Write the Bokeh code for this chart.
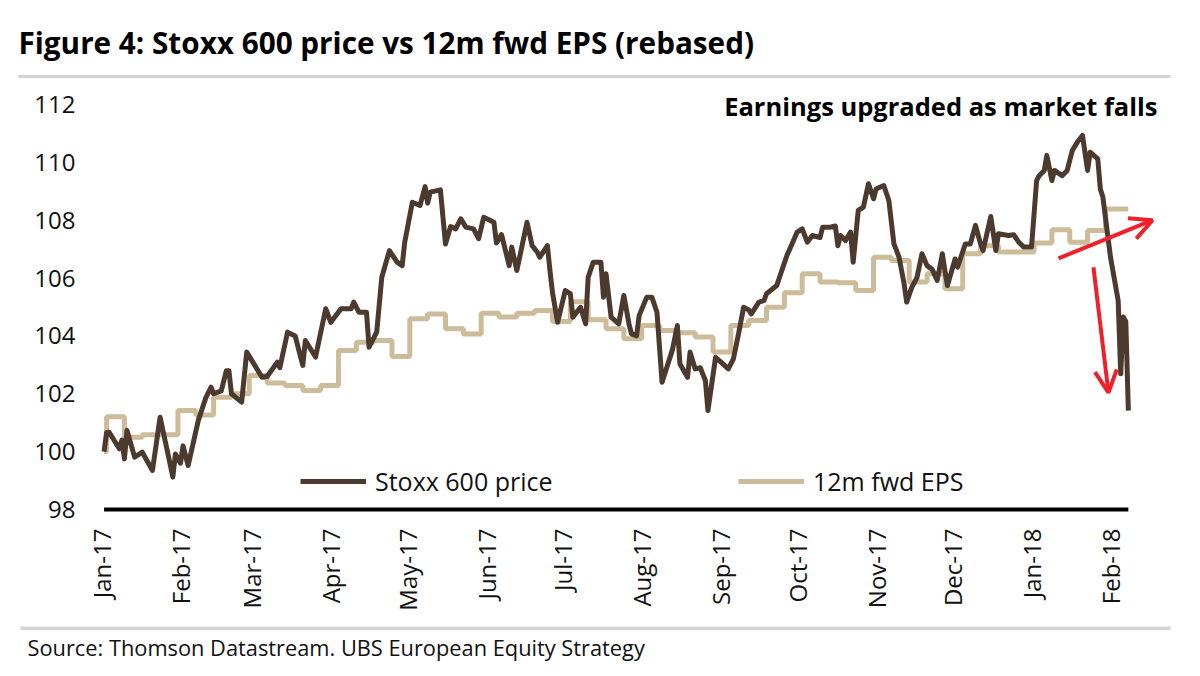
from math import pi
import pandas as pd
from bokeh.plotting import figure
from bokeh.layouts import column
from bokeh.models import (Range1d, FixedTicker, DatetimeTickFormatter, Legend, LegendItem,
                          Label, BoxAnnotation, Arrow, OpenHead)
from bokeh.embed import file_html
from bokeh.resources import INLINE

# ---------------- data ----------------
price_dates = [
    "2017-01-02", "2017-01-03", "2017-01-04", "2017-01-08", "2017-01-09", "2017-01-10", "2017-01-11",
    "2017-01-14", "2017-01-17", "2017-01-21", "2017-01-24", "2017-01-29", "2017-01-30", "2017-02-01",
    "2017-02-02", "2017-02-04", "2017-02-08", "2017-02-11", "2017-02-13", "2017-02-14", "2017-02-17",
    "2017-02-19", "2017-02-20", "2017-02-21", "2017-02-25", "2017-02-27", "2017-03-05", "2017-03-07",
    "2017-03-11", "2017-03-12", "2017-03-15", "2017-03-18", "2017-03-21", "2017-03-22", "2017-03-26",
    "2017-03-30", "2017-04-01", "2017-04-05", "2017-04-09", "2017-04-10", "2017-04-12", "2017-04-15",
    "2017-04-16", "2017-04-19", "2017-04-21", "2017-04-24", "2017-04-27", "2017-04-29", "2017-04-30",
    "2017-05-03", "2017-05-06", "2017-05-08", "2017-05-09", "2017-05-10", "2017-05-14", "2017-05-16",
    "2017-05-18", "2017-05-20", "2017-05-22", "2017-05-24", "2017-05-27", "2017-05-29", "2017-05-31",
    "2017-06-04", "2017-06-05", "2017-06-07", "2017-06-10", "2017-06-11", "2017-06-13", "2017-06-17",
    "2017-06-19", "2017-06-21", "2017-06-22", "2017-06-25", "2017-06-26", "2017-06-27", "2017-06-29",
    "2017-07-02", "2017-07-04", "2017-07-05", "2017-07-08", "2017-07-10", "2017-07-11", "2017-07-13",
    "2017-07-16", "2017-07-17", "2017-07-18", "2017-07-20", "2017-07-23", "2017-07-25", "2017-07-27",
    "2017-07-28", "2017-07-30", "2017-07-31", "2017-08-03", "2017-08-05", "2017-08-07", "2017-08-09",
    "2017-08-13", "2017-08-15", "2017-08-16", "2017-08-19", "2017-08-20", "2017-08-22", "2017-08-24",
    "2017-08-26", "2017-08-27", "2017-08-30", "2017-09-01", "2017-09-04", "2017-09-06", "2017-09-08",
    "2017-09-10", "2017-09-12", "2017-09-13", "2017-09-16", "2017-09-18", "2017-09-19", "2017-09-23",
    "2017-09-25", "2017-09-27", "2017-09-29", "2017-10-01", "2017-10-03", "2017-10-05", "2017-10-07",
    "2017-10-10", "2017-10-11", "2017-10-14", "2017-10-16", "2017-10-17", "2017-10-18", "2017-10-20",
    "2017-10-22", "2017-10-23", "2017-10-25", "2017-10-27", "2017-10-29", "2017-10-31", "2017-11-01",
    "2017-11-04", "2017-11-06", "2017-11-08", "2017-11-10", "2017-11-12", "2017-11-13", "2017-11-15",
    "2017-11-17", "2017-11-19", "2017-11-21", "2017-11-23", "2017-11-25", "2017-11-27", "2017-11-28",
    "2017-11-29", "2017-12-02", "2017-12-03", "2017-12-06", "2017-12-08", "2017-12-10", "2017-12-12",
    "2017-12-13", "2017-12-16", "2017-12-18", "2017-12-19", "2017-12-23", "2017-12-25", "2017-12-27",
    "2017-12-29", "2018-01-01", "2018-01-03", "2018-01-04", "2018-01-06", "2018-01-07", "2018-01-09",
    "2018-01-10", "2018-01-13", "2018-01-15", "2018-01-17", "2018-01-19", "2018-01-21", "2018-01-23",
    "2018-01-24", "2018-01-27", "2018-01-28", "2018-01-29", "2018-02-01", "2018-02-04", "2018-02-05",
    "2018-02-06", "2018-02-07", "2018-02-08",
]
price_values = [
    100.00, 100.66, 100.67, 100.10, 100.40, 99.75, 100.73,
    99.81, 99.98, 99.35, 101.19, 99.12, 99.92, 99.60,
    100.20, 99.52, 101.08, 101.88, 102.23, 102.00, 102.10,
    102.80, 102.80, 102.00, 101.71, 103.44, 102.57, 102.60,
    103.09, 102.90, 104.13, 104.00, 102.98, 103.84, 103.27,
    104.94, 104.47, 104.94, 104.94, 105.17, 104.82, 104.82,
    103.61, 104.13, 106.03, 106.95, 106.55, 106.43, 107.24,
    108.62, 108.51, 109.16, 108.59, 108.97, 109.05, 107.18,
    107.78, 107.70, 108.05, 107.76, 107.70, 107.36, 108.10,
    107.93, 107.21, 107.50, 106.43, 107.07, 106.26, 107.93,
    107.12, 106.90, 106.72, 107.12, 106.26, 105.50, 104.47,
    105.57, 105.46, 104.65, 104.99, 104.42, 106.03, 106.55,
    106.55, 105.34, 106.15, 104.65, 104.42, 105.40, 104.42,
    104.07, 104.00, 104.70, 105.34, 105.34, 104.82, 102.40,
    103.50, 104.36, 103.04, 102.57, 103.44, 102.86, 102.90,
    102.46, 101.42, 103.26, 103.10, 102.86, 103.21, 104.07,
    104.99, 104.90, 104.76, 105.17, 105.22, 105.46, 105.74,
    106.26, 106.78, 107.18, 107.59, 107.70, 107.24, 107.47,
    107.40, 107.76, 107.76, 107.80, 107.12, 107.47, 107.30,
    107.59, 106.55, 108.34, 108.45, 109.26, 108.74, 109.08,
    109.20, 108.68, 107.18, 106.72, 105.80, 105.17, 105.68,
    106.00, 106.84, 106.43, 106.30, 105.92, 106.84, 106.26,
    105.74, 106.66, 106.38, 107.18, 107.18, 107.82, 107.18,
    106.95, 108.13, 106.95, 107.53, 107.47, 107.50, 107.24,
    107.07, 107.07, 109.37, 109.54, 109.72, 110.24, 109.37,
    109.72, 109.54, 109.72, 110.41, 110.70, 110.93, 109.72,
    110.35, 110.12, 109.08, 108.80, 106.72, 105.22, 102.69,
    104.65, 104.50, 101.42,
]

eps_dates = [
    "2017-01-02", "2017-01-03", "2017-01-10", "2017-01-17", "2017-01-31", "2017-02-07", "2017-02-14",
    "2017-02-21", "2017-02-28", "2017-03-07", "2017-03-14", "2017-03-21", "2017-03-28", "2017-04-04",
    "2017-04-11", "2017-04-18", "2017-04-25", "2017-05-02", "2017-05-09", "2017-05-16", "2017-05-23",
    "2017-05-30", "2017-06-06", "2017-06-13", "2017-06-20", "2017-06-27", "2017-07-04", "2017-07-11",
    "2017-07-18", "2017-07-25", "2017-08-01", "2017-08-08", "2017-08-15", "2017-08-22", "2017-08-29",
    "2017-09-05", "2017-09-12", "2017-09-19", "2017-09-26", "2017-10-03", "2017-10-10", "2017-10-17",
    "2017-10-24", "2017-10-31", "2017-11-07", "2017-11-14", "2017-11-21", "2017-11-28", "2017-12-05",
    "2017-12-12", "2017-12-19", "2018-01-02", "2018-01-09", "2018-01-16", "2018-01-23", "2018-01-30",
    "2018-02-08",
]
eps_values = [
    100.00, 101.21, 100.50, 100.58, 101.42, 101.27, 101.88,
    102.00, 102.63, 102.37, 102.29, 102.11, 102.29, 103.50,
    103.78, 103.84, 103.29, 104.59, 104.76, 104.25, 104.07,
    104.78, 104.65, 104.78, 104.88, 104.50, 105.18, 104.56,
    104.25, 103.90, 104.36, 104.19, 104.11, 103.96, 103.44,
    104.36, 104.53, 104.99, 105.49, 106.15, 105.86, 105.84,
    105.57, 106.72, 106.61, 105.86, 106.15, 105.63, 106.84,
    107.12, 106.90, 107.21, 107.67, 107.24, 107.64, 108.39,
    108.39,
]

month_ticks = ["2017-01-01", "2017-02-01", "2017-03-01", "2017-04-01", "2017-05-01", "2017-06-01",
               "2017-07-01", "2017-08-01", "2017-09-01", "2017-10-01", "2017-11-01", "2017-12-01",
               "2018-01-01", "2018-02-01"]
y_ticks = [98, 100, 102, 104, 106, 108, 110, 112]

series_names = ["Stoxx 600 price", "12m fwd EPS"]
title_text = "Figure 4: Stoxx 600 price vs 12m fwd EPS (rebased)"
note_text = "Earnings upgraded as market falls"
source_text = "Source:  Thomson Datastream. UBS European Equity Strategy"

# ---------------- styling / layout ----------------
PRICE_COLOR = "#4b3a2d"
EPS_COLOR = "#cdbc99"
RED = "#f0202a"
RULE = "#d3d3d3"
FONT = "Open Sans"
TXT = "#111111"

W = 1200
TOP_H, MAIN_H, BOT_H = 80, 545, 51
BL, BR, BT, BB = 98, 40, 10, 113
frame_w = W - BL - BR
frame_h = MAIN_H - BT - BB
PX_PER_DAY = 2.548
PX_PER_UNIT = 28.93


def ms(d):
    return pd.Timestamp(d).value / 1e6


def deco_figure(h):
    f = figure(width=W, height=h, x_range=Range1d(0, W), y_range=Range1d(0, h),
               x_axis_location=None, y_axis_location=None, min_border=0,
               output_backend="svg", toolbar_location=None)
    f.frame_align = False
    f.outline_line_color = None
    f.grid.visible = False
    f.background_fill_color = "white"
    f.border_fill_color = "white"
    return f


# ---- header: title + rule ----
top = deco_figure(TOP_H)
top.add_layout(Label(x=18, y=TOP_H - 42, x_units="screen", y_units="screen", text=title_text,
                     text_font=FONT, text_font_style="bold", text_font_size="29.7px",
                     text_color="black", text_baseline="alphabetic"))
top.add_layout(BoxAnnotation(left=18, right=1170, bottom=TOP_H - 77.5, top=TOP_H - 74.5,
                             left_units="screen", right_units="screen",
                             bottom_units="screen", top_units="screen",
                             fill_color=RULE, fill_alpha=1, line_color=None))

# ---- main chart ----
x_start = pd.Timestamp("2017-01-01") - pd.Timedelta(days=1.18)
x_end = x_start + pd.Timedelta(days=frame_w / PX_PER_DAY)
y_start = 98 - 3 / PX_PER_UNIT
y_end = y_start + frame_h / PX_PER_UNIT

p = figure(width=W, height=MAIN_H, x_axis_type="datetime", title=None,
           x_range=Range1d(x_start, x_end), y_range=Range1d(y_start, y_end),
           output_backend="svg", toolbar_location=None,
           min_border_left=BL, min_border_right=BR, min_border_top=BT, min_border_bottom=BB)
p.frame_align = False
p.outline_line_color = None
p.grid.visible = False
p.background_fill_color = "white"
p.border_fill_color = "white"

p.yaxis.ticker = FixedTicker(ticks=y_ticks)
p.xaxis.ticker = FixedTicker(ticks=[ms(d) for d in month_ticks])
fmt = "%b-%y"
p.xaxis.formatter = DatetimeTickFormatter(milliseconds=fmt, seconds=fmt, minsec=fmt, minutes=fmt,
                                          hourmin=fmt, hours=fmt, days=fmt, months=fmt, years=fmt)
for ax in (p.xaxis[0], p.yaxis[0]):
    ax.axis_line_color = None
    ax.major_tick_line_color = None
    ax.minor_tick_line_color = None
    ax.major_tick_in = 0
    ax.major_tick_out = 0
    ax.minor_tick_in = 0
    ax.minor_tick_out = 0
    ax.major_label_text_font = FONT
    ax.major_label_text_font_size = "24px"
    ax.major_label_text_color = TXT
p.yaxis.major_label_standoff = 23
p.xaxis.major_label_standoff = 16
p.xaxis.major_label_orientation = pi / 2

px = pd.to_datetime(price_dates)
ex = pd.to_datetime(eps_dates)

# baseline spanning the data period at the bottom of the value axis
p.line(x=[px[0], px[-1]], y=[y_ticks[0], y_ticks[0]], line_color="black", line_width=4)

r_eps = p.step(x=ex, y=eps_values, mode="after", line_color=EPS_COLOR, line_width=5)
r_price = p.line(x=px, y=price_values, line_color=PRICE_COLOR, line_width=5, line_join="round")

legend = Legend(items=[LegendItem(label=series_names[0], renderers=[r_price]),
                       LegendItem(label=series_names[1], renderers=[r_eps])],
                orientation="horizontal", location=(202, 14), padding=0, margin=0, spacing=0,
                glyph_width=66, glyph_height=34, label_height=34, label_width=363, label_standoff=9,
                border_line_color=None, background_fill_alpha=0,
                label_text_font=FONT, label_text_font_size="25px", label_text_color=TXT)
p.add_layout(legend)

p.add_layout(Label(x=1059, y=407, x_units="screen", y_units="screen", text=note_text,
                   text_font=FONT, text_font_style="bold", text_font_size="25.5px",
                   text_color="black", text_align="right", text_baseline="alphabetic"))


def day(d):
    return ms(pd.Timestamp("2017-01-01") + pd.Timedelta(days=d))


p.add_layout(Arrow(end=OpenHead(line_color=RED, line_width=4, size=22),
                   x_start=day(375.6), y_start=106.68, x_end=day(412.5), y_end=108.0,
                   line_color=RED, line_width=4))
p.add_layout(Arrow(end=OpenHead(line_color=RED, line_width=4, size=22),
                   x_start=day(389.3), y_start=106.37, x_end=day(395.2), y_end=102.04,
                   line_color=RED, line_width=4))

# ---- footer: rule + source ----
bot = deco_figure(BOT_H)
bot.add_layout(BoxAnnotation(left=20, right=1170, bottom=BOT_H - 4.5, top=BOT_H - 1,
                             left_units="screen", right_units="screen",
                             bottom_units="screen", top_units="screen",
                             fill_color=RULE, fill_alpha=1, line_color=None))
bot.add_layout(Label(x=27, y=BOT_H - 22, x_units="screen", y_units="screen", text=source_text,
                     text_font=FONT, text_font_size="21.8px",
                     text_color=TXT, text_baseline="alphabetic"))

page = column(top, p, bot, spacing=0)
open("out.html", "w").write(file_html(page, INLINE))
